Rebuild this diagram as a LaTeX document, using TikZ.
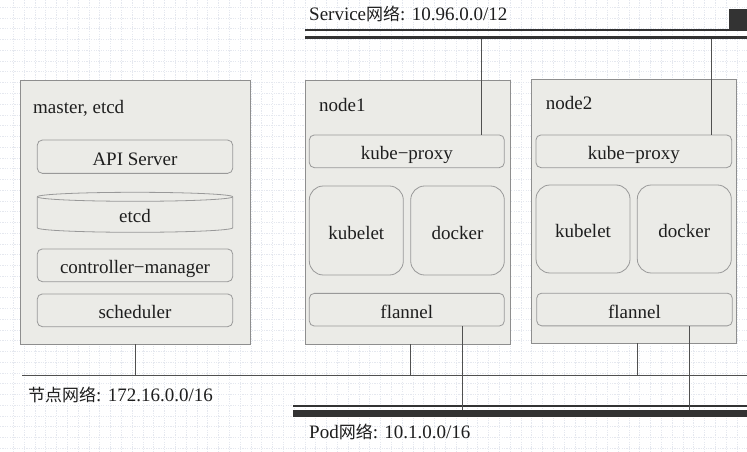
\documentclass[tikz,border=0pt]{standalone}
\usepackage{fontspec}
\setmainfont{Liberation Serif}
\newfontfamily\cjk{Noto Sans CJK SC}
\definecolor{gridc}{HTML}{E5E8EF}
\definecolor{boxfill}{HTML}{EBEBE7}
\definecolor{boxline}{HTML}{8E8E8E}
\definecolor{innerline}{HTML}{999999}
\definecolor{txt}{HTML}{1E1E1E}
\definecolor{wire}{HTML}{505050}
\definecolor{bus}{HTML}{333333}
\begin{document}
\begin{tikzpicture}[x=1pt,y=-1pt,
  font=\fontsize{19}{22}\selectfont, text=txt,
  bigbox/.style={draw=boxline, fill=boxfill, line width=0.8pt, inner sep=0pt},
  inbox/.style={draw=innerline, fill=boxfill, line width=0.8pt, rounded corners=5pt, inner sep=0pt, text height=17pt, text depth=0pt},
  roundbox/.style={inbox, rounded corners=14pt},
  lab/.style={anchor=base west, inner sep=0pt},
  wireline/.style={draw=wire, line width=0.9pt}]
\useasboundingbox (0,0) rectangle (747,452);
\fill[white] (0,0) rectangle (747,452);
% background grid
\begin{scope}[gridc, line width=0.6pt, dash pattern=on 1.2pt off 1.2pt]
\foreach \i in {0,...,68} {\draw (13.3+\i*10.8,0) -- ++(0,452);}
\foreach \j in {0,...,41} {\draw (0,7.3+\j*10.75) -- ++(747,0);}
\end{scope}

% networks
\draw[bus, line width=1.7pt] (305,30.3) -- (747,30.3);
\draw[bus, line width=3.3pt] (305,37.7) -- (747,37.7);
\fill[bus] (729,9.5) rectangle (747,30.3);
\node[lab] (svclab) at (309,20.7) {Service{\cjk\fontsize{17}{20}\selectfont 网络}: 10.96.0.0/12};

\draw[bus, line width=1.8pt] (293,406.2) -- (747,406.2);
\draw[bus, line width=7pt] (293,413.6) -- (747,413.6);
\node[lab] (podlab) at (309,438) {Pod{\cjk\fontsize{17}{20}\selectfont 网络}: 10.1.0.0/16};

\draw[wire, line width=1pt] (22,375.7) -- (747,375.7);
\node[lab] (nodenetlab) at (28,401.7) {{\cjk\fontsize{17}{20}\selectfont 节点网络}: 172.16.0.0/16};

% master
\node[bigbox, minimum width=230pt, minimum height=264pt] (master) at (135.7,212) {};
\node[lab] (mlab) at (33,113.3) {master, etcd};
\node[inbox, minimum width=195.4pt, minimum height=33.3pt] (api) at (135,156.7) {API Server};
\draw[draw=innerline, fill=boxfill, line width=0.8pt] (37.3,196.8) -- (37.3,227.8)
  arc[start angle=180, end angle=360, x radius=97.7pt, y radius=4.5pt] -- (232.7,196.8)
  arc[start angle=0, end angle=180, x radius=97.7pt, y radius=4.5pt] -- cycle;
\draw[draw=innerline, line width=0.8pt] (37.3,196.8) arc[start angle=180, end angle=360, x radius=97.7pt, y radius=4.5pt];
\node[inner sep=0pt, minimum width=195.4pt, minimum height=40pt, text height=17pt, text depth=0pt] (etcd) at (135,214) {etcd};
\node[inbox, minimum width=195.4pt, minimum height=32.7pt] (cm) at (135,265.3) {controller−manager};
\node[inbox, minimum width=195.4pt, minimum height=32.7pt] (sched) at (135,310.3) {scheduler};

% node1
\node[bigbox, minimum width=205pt, minimum height=264pt] (n1) at (407.5,212) {};
\node[lab] (n1lab) at (319,111) {node1};
\node[inbox, minimum width=195pt, minimum height=32.7pt] (kp1) at (406.8,151.3) {kube−proxy};
\node[roundbox, minimum width=94pt, minimum height=89pt] (kl1) at (356.3,230.5) {kubelet};
\node[roundbox, minimum width=93.6pt, minimum height=89pt] (dk1) at (457.5,230.5) {docker};
\node[inbox, minimum width=195pt, minimum height=32.7pt] (fl1) at (406.8,309.7) {flannel};

% node2
\node[bigbox, minimum width=205pt, minimum height=264pt] (n2) at (634.2,211) {};
\node[lab] (n2lab) at (545.7,110) {node2};
\node[inbox, minimum width=195.7pt, minimum height=32.7pt] (kp2) at (633.8,151.3) {kube−proxy};
\node[roundbox, minimum width=94pt, minimum height=88pt] (kl2) at (583,229) {kubelet};
\node[roundbox, minimum width=94pt, minimum height=88pt] (dk2) at (684.3,229) {docker};
\node[inbox, minimum width=195.6pt, minimum height=32.7pt] (fl2) at (634.5,309.5) {flannel};

% bus taps
\coordinate (s1) at (481.7,39.3);
\coordinate (s2) at (711.7,39.3);
\coordinate (m0) at (135.3,375.7);
\coordinate (a1) at (410.3,375.7);
\coordinate (a2) at (637.7,375.7);
\coordinate (p1) at (462.3,410);
\coordinate (p2) at (689.7,410);

% connectors
\draw[wireline] (s1) -- (kp1.north -| s1);
\draw[wireline] (s2) -- (kp2.north -| s2);
\draw[wireline] (master.south -| m0) -- (m0);
\draw[wireline] (n1.south -| a1) -- (a1);
\draw[wireline] (n2.south -| a2) -- (a2);
\draw[wireline] (fl1.south -| p1) -- (p1);
\draw[wireline] (fl2.south -| p2) -- (p2);
\end{tikzpicture}
\end{document}
